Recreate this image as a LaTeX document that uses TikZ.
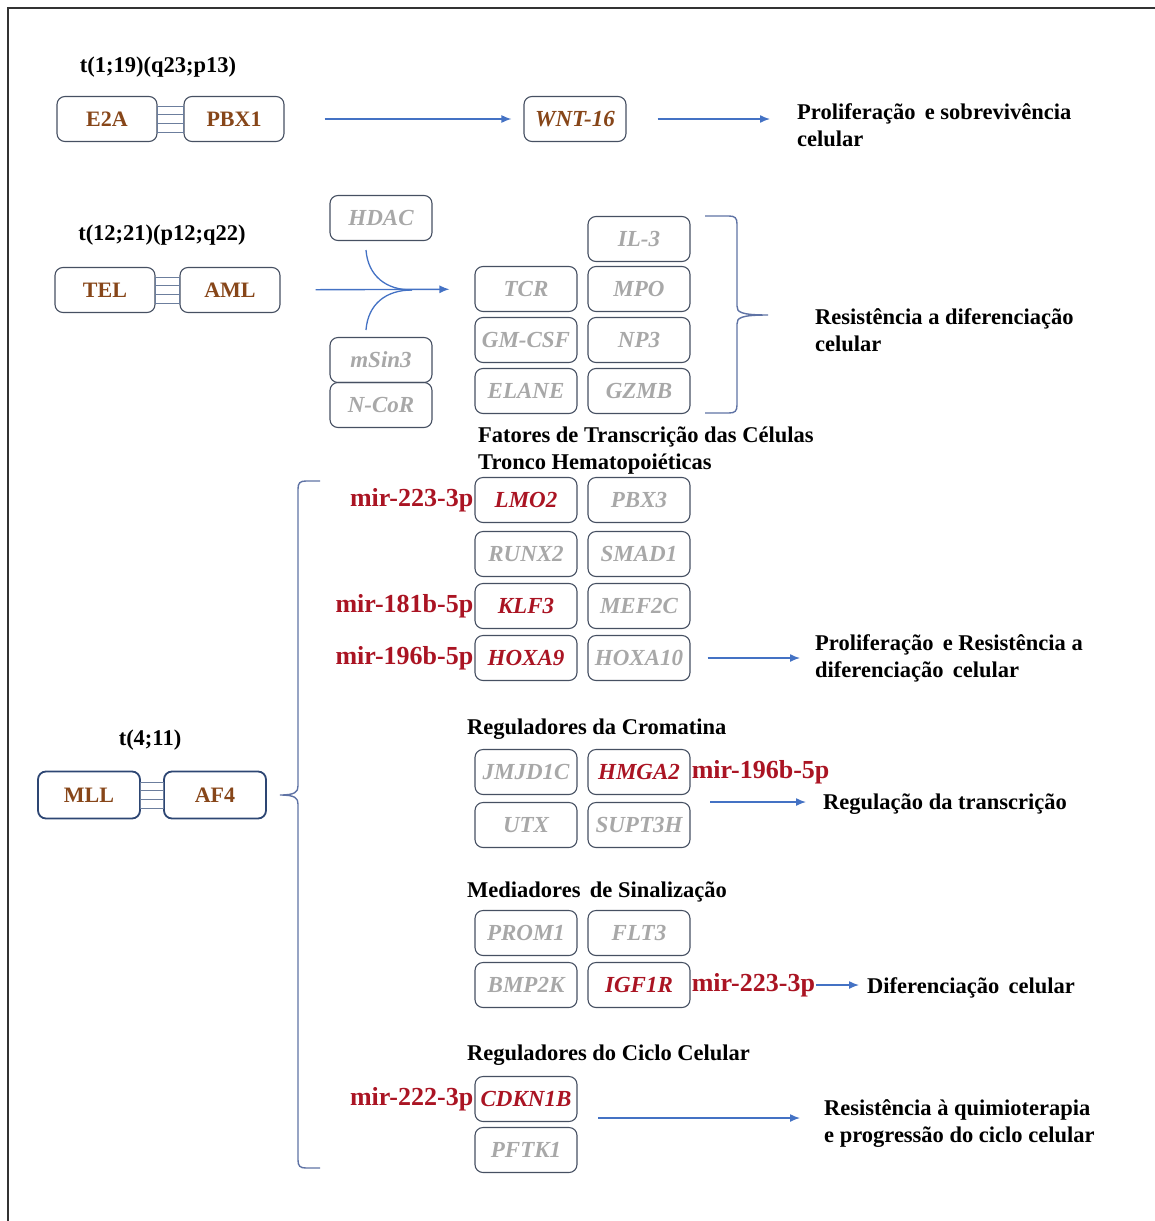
\documentclass[tikz,border=0pt]{standalone}
\usepackage{fontspec}
\setmainfont{Liberation Serif}
\usetikzlibrary{calc,arrows.meta}

\definecolor{boxline}{RGB}{70,80,98}
\definecolor{fuseline}{RGB}{45,70,115}
\definecolor{fusetext}{RGB}{135,70,25}
\definecolor{mirred}{RGB}{170,20,35}
\definecolor{genegray}{RGB}{168,168,168}
\definecolor{arrowblue}{RGB}{68,114,196}
\definecolor{bracecol}{RGB}{95,115,165}

% the small ladder that joins two fused genes
\newcommand{\fuselink}[2]{%
  \draw[linkline] ($(#1.east)+(0,-13)$) rectangle ($(#2.west)+(0,13)$);
  \draw[linkline] ($(#1.east)+(0,-4.3)$) -- ($(#2.west)+(0,-4.3)$);
  \draw[linkline] ($(#1.east)+(0,4.3)$) -- ($(#2.west)+(0,4.3)$);
}

\begin{document}
\begin{tikzpicture}[x=1pt,y=-1pt,>={Latex[length=10pt,width=8pt]},
    gene/.style={draw=boxline,line width=1.1pt,rounded corners=8pt,minimum width=102pt,
      minimum height=45pt,inner sep=0pt,text=genegray,font=\fontsize{23}{23}\selectfont\bfseries\itshape},
    hit/.style={gene,text=mirred},
    fusion/.style={gene,minimum width=100pt,text=fusetext,font=\fontsize{22}{22}\selectfont\bfseries},
    linkline/.style={draw=fuseline!70,line width=1pt},
    mir/.style={text=mirred,inner sep=1pt,font=\fontsize{26}{26}\selectfont\bfseries},
    heading/.style={inner sep=0pt,font=\fontsize{22.5}{27}\selectfont\bfseries,align=left},
    effect/.style={heading,anchor=west},
    flow/.style={->,draw=arrowblue,line width=1.4pt},
    bracket/.style={draw=bracecol,line width=1.4pt}]

    % frame, only its left and top edges are inside the picture
    \clip (0,0) rectangle (1155,1221);
    \draw[line width=2pt,black!80] (8,1260) -- (8,8) -- (1200,8);

    % t(1;19)
    \node[heading] (title1) at (158,67) {t(1;19)(q23;p13)};
    \node[fusion] (e2a) at (107,119) {E2A};
    \node[fusion] (pbx1) at (234,119) {PBX1};
    \fuselink{e2a}{pbx1}
    \node[gene,text=fusetext] (wnt16) at (575,119) {WNT-16};
    \node[effect] (prolif) at (797,125) {Proliferação\, e sobrevivência\\celular};
    \draw[flow,shorten <=40pt,shorten >=12pt] (pbx1) -- (wnt16);
    \draw[flow,shorten <=31pt,shorten >=27pt] (wnt16.east) -- (wnt16.east -| prolif.west);

    % t(12;21)
    \node[heading] (title2) at (162,235) {t(12;21)(p12;q22)};
    \node[fusion] (tel) at (105,290) {TEL};
    \node[fusion] (aml) at (230,290) {AML};
    \fuselink{tel}{aml}
    \node[gene] (hdac) at (381,218) {HDAC};
    \node[gene] (msin) at (381,360) {mSin3};
    \node[gene] (ncor) at (381,405) {N-CoR};
    \node[gene] (tcr) at (526,289) {TCR};
    \node[gene] (gmcsf) at (526,340) {GM-CSF};
    \node[gene] (elane) at (526,391) {ELANE};
    \node[gene] (il3) at (639,239) {IL-3};
    \node[gene] (mpo) at (639,289) {MPO};
    \node[gene] (np3) at (639,340) {NP3};
    \node[gene] (gzmb) at (639,391) {GZMB};
    \draw[flow,shorten <=35pt,shorten >=25pt] (aml) -- (tcr);
    \coordinate (merge) at (412,290);
    \coordinate (hdacend) at (366,250);
    \coordinate (msinend) at (366,330);
    \draw[arrowblue,line width=1.3pt] (hdacend) .. controls (368,276) and (386,290) .. (merge);
    \draw[arrowblue,line width=1.3pt] (msinend) .. controls (368,304) and (386,290) .. (merge);
    \draw[bracket] (705,216) -- (729,216) .. controls (735,216) and (737,218) .. (737,224)
      -- (737,306) .. controls (737,312) and (740,315) .. (768,315)
      .. controls (740,315) and (737,318) .. (737,324) -- (737,405)
      .. controls (737,411) and (735,413) .. (729,413) -- (705,413);
    \node[effect] (resist) at (815,330) {Resistência a diferenciação\\celular};

    % t(4;11)
    \node[heading] (title3) at (150,740) {t(4;11)};
    \node[fusion,draw=fuseline,line width=1.8pt,minimum width=102pt,minimum height=47pt] (mll) at (89,795) {MLL};
    \node[fusion,draw=fuseline,line width=1.8pt,minimum width=102pt,minimum height=47pt] (af4) at (215,795) {AF4};
    \fuselink{mll}{af4}
    \draw[bracket] (320,481) -- (306,481) .. controls (300,481) and (298,483) .. (298,489)
      -- (298,786) .. controls (298,792) and (295,795) .. (280,795)
      .. controls (295,795) and (298,798) .. (298,804) -- (298,1160)
      .. controls (298,1166) and (300,1168) .. (306,1168) -- (320,1168);

    % transcription factors
    \node[heading,anchor=west] (tftitle) at (478,451) {Fatores de Transcrição das Células\\Tronco Hematopoiéticas};
    \node[hit] (lmo2) at (526,500) {LMO2};
    \node[gene] (pbx3) at (639,500) {PBX3};
    \node[gene] (runx2) at (526,554) {RUNX2};
    \node[gene] (smad1) at (639,554) {SMAD1};
    \node[hit] (klf3) at (526,606) {KLF3};
    \node[gene] (mef2c) at (639,606) {MEF2C};
    \node[hit] (hoxa9) at (526,658) {HOXA9};
    \node[gene] (hoxa10) at (639,658) {HOXA10};
    \node[mir,anchor=east] (mir1) at (lmo2.west) {mir-223-3p};
    \node[mir,anchor=east] (mir2) at (klf3.west) {mir-181b-5p};
    \node[mir,anchor=east] (mir3) at (hoxa9.west) {mir-196b-5p};
    \node[effect] (prolif2) at (815,658) {Proliferação\, e Resistência a\\diferenciação\, celular};
    \draw[flow,shorten <=17pt,shorten >=15pt] (hoxa10) -- (prolif2);

    % chromatin
    \node[heading,anchor=west] (cromtitle) at (467,729) {Reguladores da Cromatina};
    \node[gene] (jmjd1c) at (526,772) {JMJD1C};
    \node[hit] (hmga2) at (639,772) {HMGA2};
    \node[gene] (utx) at (526,825) {UTX};
    \node[gene] (supt3h) at (639,825) {SUPT3H};
    \node[mir,anchor=west] (mir4) at (hmga2.east) {mir-196b-5p};
    \node[effect] (transcr) at (823,804) {Regulação da transcrição};
    \coordinate (cromout) at (710,802);
    \draw[flow,shorten >=17pt] (cromout) -- (cromout -| transcr.west);

    % signalling
    \node[heading,anchor=west] (sigtitle) at (467,892) {Mediadores\, de Sinalização};
    \node[gene] (prom1) at (526,933) {PROM1};
    \node[gene] (flt3) at (639,933) {FLT3};
    \node[gene] (bmp2k) at (526,985) {BMP2K};
    \node[hit] (igf1r) at (639,985) {IGF1R};
    \node[mir,anchor=west] (mir5) at (igf1r.east) {mir-223-3p};
    \node[effect] (diff) at (867,988) {Diferenciação\, celular};
    \draw[flow,shorten >=8pt] (mir5) -- (mir5 -| diff.west);

    % cell cycle
    \node[heading,anchor=west] (cyctitle) at (467,1055) {Reguladores do Ciclo Celular};
    \node[hit] (cdkn1b) at (526,1099) {CDKN1B};
    \node[gene] (pftk1) at (526,1150) {PFTK1};
    \node[mir,anchor=east] (mir6) at (cdkn1b.west) {mir-222-3p};
    \node[effect] (chemo) at (824,1124) {Resistência à quimioterapia\\e progressão do ciclo celular};
    \coordinate (cycout) at (598,1118);
    \draw[flow,shorten >=24pt] (cycout) -- (cycout -| chemo.west);
\end{tikzpicture}
\end{document}
